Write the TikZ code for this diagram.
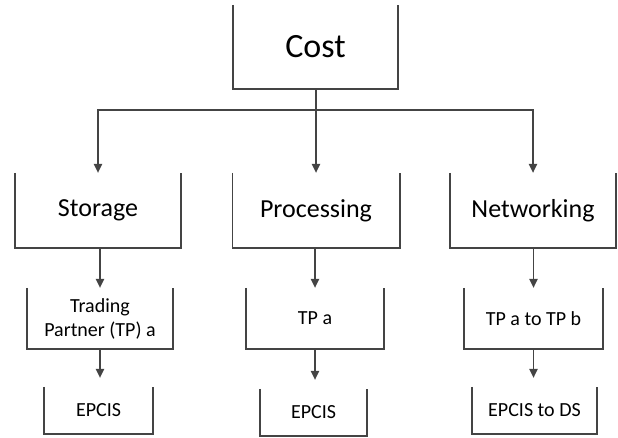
\documentclass[tikz,border=0pt]{standalone}
\usepackage{fontspec}
\setmainfont{Carlito}
\usetikzlibrary{arrows.meta}
\definecolor{lc}{HTML}{444444}
\tikzset{
  ubox/.style={rectangle, inner sep=0pt, align=center, text=black},
  uline/.style={draw=lc, line width=1.6pt, line join=miter},
  conn/.style={draw=lc, line width=1.2pt},
  arr/.style={conn, -{Triangle[length=9pt,width=8.5pt]}},
  big/.style={font=\fontsize{34}{40}\selectfont},
  mid/.style={font=\fontsize{26}{31}\selectfont},
  small/.style={font=\fontsize{20}{24}\selectfont}
}
\begin{document}
\begin{tikzpicture}[x=1pt,y=-1pt]
\useasboundingbox (0,0) rectangle (618,437);
\node[ubox,big,minimum width=165pt,minimum height=84pt] (cost) at (315.5,47) {Cost};
\node[ubox,mid,minimum width=166pt,minimum height=75pt] (stor) at (98,210.5) {Storage};
\node[ubox,mid,minimum width=167pt,minimum height=75pt] (proc) at (316,210.5) {Processing};
\node[ubox,mid,minimum width=166pt,minimum height=75pt] (net) at (533,210.5) {Networking};
\node[ubox,small,minimum width=146pt,minimum height=61pt] (tpa1) at (100,318.5) {Trading\\Partner (TP) a};
\node[ubox,small,minimum width=138pt,minimum height=61pt] (tpa2) at (315,318.5) {TP a};
\node[ubox,small,minimum width=139pt,minimum height=61pt] (tpab) at (533.5,318.5) {TP a to TP b};
\node[ubox,small,minimum width=109pt,minimum height=47pt] (ep1) at (98.5,410.5) {EPCIS};
\node[ubox,small,minimum width=107pt,minimum height=47pt] (ep2) at (313.5,412.5) {EPCIS};
\node[ubox,small,minimum width=125pt,minimum height=47pt] (ep3) at (534.5,410.5) {EPCIS to DS};
\foreach \n in {cost,stor,proc,net,tpa1,tpa2,tpab,ep1,ep2,ep3}
  \draw[uline] (\n.north west) -- (\n.south west) -- (\n.south east) -- (\n.north east);
\coordinate (bar) at (316,110);
\draw[arr] (cost.south -| proc.north) -- (proc.north);
\draw[arr] (bar -| proc.north) -| (stor.north);
\draw[arr] (bar -| proc.north) -| (net.north);
\draw[arr] (stor.south -| tpa1.north) -- (tpa1.north);
\draw[arr] (proc.south -| tpa2.north) -- (tpa2.north);
\draw[arr] (net.south -| tpab.north) -- (tpab.north);
\draw[arr, shorten >=9pt] (tpa1.south) -- (tpa1.south |- ep1.north);
\draw[arr, shorten >=9pt] (tpa2.south) -- (tpa2.south |- ep2.north);
\draw[arr, shorten >=9pt] (tpab.south) -- (tpab.south |- ep3.north);
\end{tikzpicture}
\end{document}
